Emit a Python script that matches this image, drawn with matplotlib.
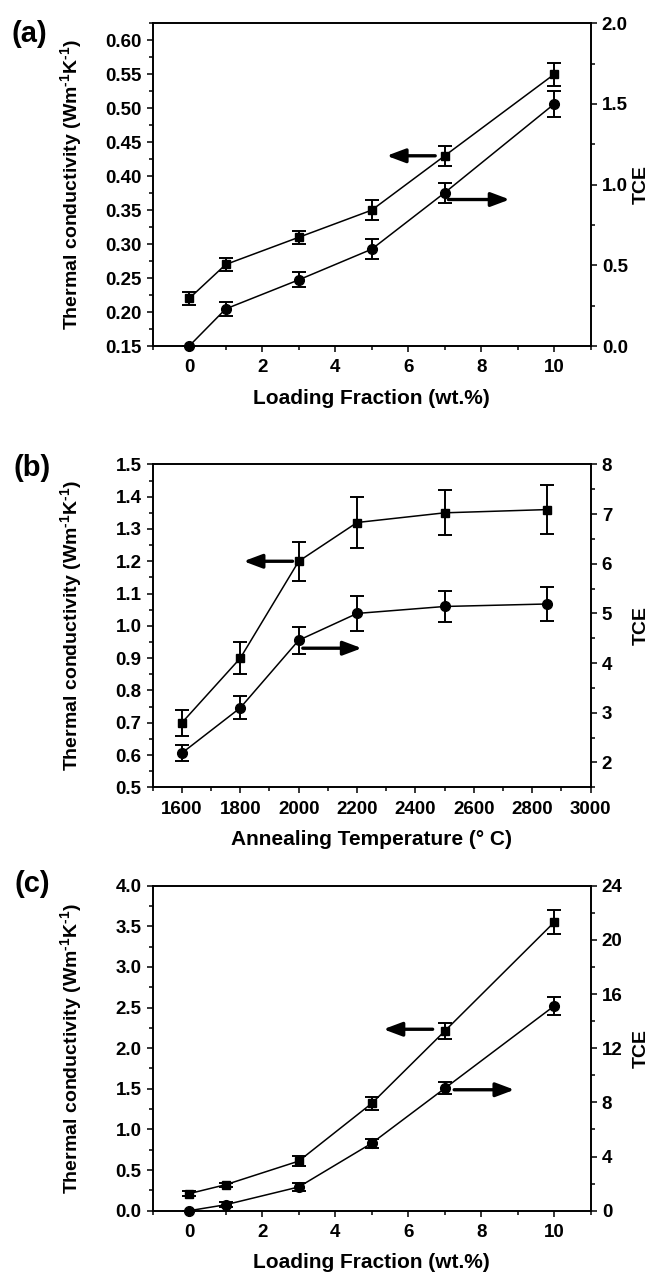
import numpy as np
import matplotlib
matplotlib.use("Agg")
import matplotlib.pyplot as plt
from matplotlib.ticker import MultipleLocator, FormatStrFormatter


# loading fraction (wt.%) for panels (a) and (c)
loading = [0, 1, 3, 5, 7, 10]
# annealing temperature (C) for panel (b)
anneal_t = [1600, 1800, 2000, 2200, 2500, 2850]

# panel (a): thermal conductivity and TCE
k_a = [0.22, 0.27, 0.31, 0.35, 0.43, 0.55]
k_a_err = [0.010, 0.010, 0.010, 0.015, 0.015, 0.017]
tce_a = [0.0, 0.23, 0.41, 0.60, 0.95, 1.50]
tce_a_err = [0.0, 0.043, 0.047, 0.061, 0.061, 0.081]

# panel (b)
k_b = [0.70, 0.90, 1.20, 1.32, 1.35, 1.36]
k_b_err = [0.04, 0.05, 0.06, 0.08, 0.07, 0.075]
tce_b = [2.19, 3.10, 4.46, 5.00, 5.14, 5.19]
tce_b_err = [0.17, 0.23, 0.27, 0.36, 0.31, 0.35]

# panel (c)
k_c = [0.21, 0.32, 0.61, 1.32, 2.21, 3.55]
k_c_err = [0.033, 0.025, 0.06, 0.08, 0.10, 0.15]
tce_c = [0.0, 0.44, 1.75, 4.98, 9.03, 15.12]
tce_c_err = [0.0, 0.2, 0.32, 0.35, 0.44, 0.68]

Y_LABEL = "Thermal conductivity (Wm$^{\\text{-}1}$K$^{\\text{-}1}$)"

plt.rcParams["font.family"] = ["Liberation Sans", "DejaVu Sans"]
plt.rcParams["font.weight"] = "bold"
plt.rcParams["axes.labelweight"] = "bold"
plt.rcParams["mathtext.fontset"] = "custom"
plt.rcParams["mathtext.rm"] = "Liberation Sans:bold"
plt.rcParams["mathtext.default"] = "rm"


# style ticks of one axis (outward ticks, bold labels)
def style_axis(ax, which):
    ax.tick_params(axis=which, which="major", direction="out", length=4.5, width=1.1,
                   labelsize=13.5, pad=3.5)
    ax.tick_params(axis=which, which="minor", direction="out", length=3, width=1.1)


# draw one panel with left (conductivity) and right (TCE) axes
def draw_panel(rect, x, k, k_err, tce, tce_err, cfg):
    ax = fig.add_axes(rect)
    ax2 = ax.twinx()

    ax.errorbar(x, k, yerr=k_err, color="k", marker="s", markersize=6.3, lw=1.1,
                elinewidth=1.4, capsize=5, capthick=1.4, clip_on=False, zorder=3)
    ax2.errorbar(x, tce, yerr=tce_err, color="k", marker="o", markersize=7, lw=1.1,
                 elinewidth=1.4, capsize=5, capthick=1.4, clip_on=False, zorder=3)

    ax.set_xlim(*cfg["xlim"])
    ax.set_ylim(*cfg["ylim"])
    ax2.set_ylim(*cfg["ylim2"])

    ax.xaxis.set_major_locator(MultipleLocator(cfg["xmaj"]))
    ax.xaxis.set_minor_locator(MultipleLocator(cfg["xmaj"] / 2))
    ax.yaxis.set_major_locator(MultipleLocator(cfg["ymaj"]))
    ax.yaxis.set_minor_locator(MultipleLocator(cfg["ymaj"] / 2))
    ax.yaxis.set_major_formatter(FormatStrFormatter(cfg["yfmt"]))
    ax2.yaxis.set_major_locator(MultipleLocator(cfg["y2maj"]))
    ax2.yaxis.set_minor_locator(MultipleLocator(cfg["y2maj"] / 2))
    ax2.yaxis.set_major_formatter(FormatStrFormatter(cfg["y2fmt"]))

    style_axis(ax, "x")
    style_axis(ax, "y")
    style_axis(ax2, "y")
    ax.tick_params(axis="x", pad=5)

    for a in (ax, ax2):
        for sp in a.spines.values():
            sp.set_linewidth(1.2)

    ax.set_ylabel(Y_LABEL, fontsize=14)
    ax.yaxis.set_label_coords(-0.157, 0.5)
    ax2.set_ylabel("TCE", fontsize=14)
    ax2.yaxis.set_label_coords(1.097, 0.5)
    ax.set_xlabel(cfg["xlabel"], fontsize=15, labelpad=9)

    # arrows pointing to the axis each curve belongs to
    arrow = dict(arrowstyle="-|>,head_length=0.8,head_width=0.3", lw=2.4, color="k",
                 mutation_scale=14, shrinkA=0, shrinkB=0)
    (lx0, lx1, ly) = cfg["arrow_left"]
    ax.annotate("", xy=(lx1, ly), xytext=(lx0, ly), arrowprops=arrow)
    (rx0, rx1, ry) = cfg["arrow_right"]
    ax2.annotate("", xy=(rx1, ry), xytext=(rx0, ry), arrowprops=arrow)

    fig.text(cfg["tag_pos"][0], cfg["tag_pos"][1], cfg["tag"], fontsize=21,
             fontweight="bold", ha="center", va="center")
    return ax, ax2


fig = plt.figure(figsize=(6.54, 12.74), dpi=100)

left = 152.7 / 654
width = 438 / 654

draw_panel([left, 0.7284, width, 0.2533], loading, k_a, k_a_err, tce_a, tce_a_err, {
    "xlim": (-1, 11), "ylim": (0.15, 0.625), "ylim2": (0, 2.0),
    "xmaj": 2, "ymaj": 0.05, "yfmt": "%.2f", "y2maj": 0.5, "y2fmt": "%.1f",
    "xlabel": "Loading Fraction (wt.%)",
    "arrow_left": (6.74, 5.41, 0.43), "arrow_right": (7.10, 8.78, 0.908),
    "tag": "(a)", "tag_pos": (29 / 654, 1 - 34 / 1274),
})

draw_panel([left, 0.3820, width, 0.2535], anneal_t, k_b, k_b_err, tce_b, tce_b_err, {
    "xlim": (1500, 3000), "ylim": (0.5, 1.5), "ylim2": (1.5, 8),
    "xmaj": 200, "ymaj": 0.1, "yfmt": "%.1f", "y2maj": 1, "y2fmt": "%d",
    "xlabel": "Annealing Temperature (° C)",
    "arrow_left": (1979, 1811, 1.2), "arrow_right": (2014, 2216, 4.30),
    "tag": "(b)", "tag_pos": (32 / 654, 1 - 468 / 1274),
})

draw_panel([left, 0.0497, width, 0.2551], loading, k_c, k_c_err, tce_c, tce_c_err, {
    "xlim": (-1, 11), "ylim": (0, 4.0), "ylim2": (0, 24),
    "xmaj": 2, "ymaj": 0.5, "yfmt": "%.1f", "y2maj": 4, "y2fmt": "%d",
    "xlabel": "Loading Fraction (wt.%)",
    "arrow_left": (6.67, 5.32, 2.233), "arrow_right": (7.26, 8.91, 8.93),
    "tag": "(c)", "tag_pos": (32 / 654, 1 - 884 / 1274),
})

fig.savefig("out.png", dpi=100)
